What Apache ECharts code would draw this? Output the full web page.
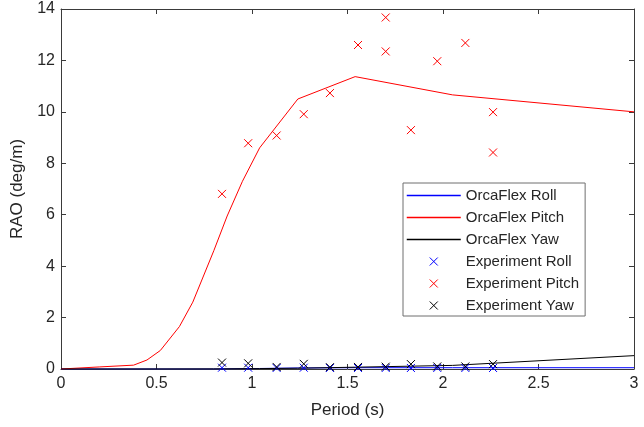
<!DOCTYPE html>
<html>
<head>
<meta charset="utf-8">
<script src="https://cdn.jsdelivr.net/npm/echarts@6/dist/echarts.min.js"></script>
<style>html,body{margin:0;padding:0;background:#fff}#c{width:644px;height:427px}</style>
</head>
<body>
<div id="c"></div>
<script>
// OrcaFlex computed RAO curves: [period (s), RAO (deg/m)]
var orcaRoll  = [[0,0],[0.8,0],[1.04,0.02],[1.24,0.04],[1.54,0.05],[2.05,0.05],[3,0.05]];
var orcaPitch = [[0,0],[0.2,0.08],[0.38,0.15],[0.45,0.35],[0.52,0.72],[0.62,1.65],[0.69,2.6],[0.8,4.6],[0.87,5.95],[0.95,7.3],[1.04,8.6],[1.24,10.5],[1.54,11.37],[2.05,10.66],[3,10.0]];
var orcaYaw   = [[0,0],[0.8,0.005],[1.04,0.015],[1.24,0.03],[1.54,0.07],[2.05,0.14],[3,0.52]];

// Experiment periods and values
var expPeriod = [0.843,0.98,1.129,1.271,1.408,1.555,1.70,1.70,1.832,1.970,2.117,2.262,2.262];
var expPitch  = [6.81,8.78,9.08,9.91,10.73,12.6,13.67,12.35,9.29,11.97,12.68,9.99,8.42];
var expPeriodRY = [0.843,0.98,1.129,1.271,1.408,1.555,1.70,1.832,1.970,2.117,2.262];
var expRoll   = [0.05,0.05,0.04,0.05,0.04,0.04,0.04,0.04,0.04,0.04,0.04];
var expYaw    = [0.25,0.22,0.08,0.2,0.07,0.08,0.09,0.19,0.1,0.1,0.19];

var xTicks = {min:0, max:3, interval:0.5};
var yTicks = {min:0, max:14, interval:2};

function pairs(xs, ys){ return xs.map(function(x,i){ return [x, ys[i]]; }); }

var FONT = 'Liberation Sans, Arial, Helvetica, sans-serif';
var TXT = '#262626';
var AX = '#3a3a3a';
var CROSS = 'path://M0,0L10,10M10,0L0,10';
var BLUE = '#0000ff', RED = '#ff0000', BLACK = '#000000';

function lineSeries(name, data, color){
  return {name:name, type:'line', data:data, symbol:'none', showSymbol:false,
    lineStyle:{color:color, width:1}, itemStyle:{color:'transparent', borderWidth:0}, silent:true,
    emphasis:{disabled:true}, z:2};
}
function crossSeries(name, data, color){
  return {name:name, type:'scatter', data:data, symbol:CROSS, symbolSize:8, symbolKeepAspect:true,
    itemStyle:{color:'transparent', borderColor:color, borderWidth:1, opacity:1},
    silent:true, emphasis:{disabled:true}, z:3};
}
function lineLegend(name, color){ return {name:name, lineStyle:{color:color, width:1.5}}; }

var baseX = {type:'value', min:xTicks.min, max:xTicks.max, interval:xTicks.interval, splitLine:{show:false}};
var baseY = {type:'value', min:yTicks.min, max:yTicks.max, interval:yTicks.interval, splitLine:{show:false}};

var chart = echarts.init(document.getElementById('c'), null, {renderer:'canvas'});
chart.setOption({
  animation:false,
  backgroundColor:'#fff',
  grid:{left:61, right:10, top:9, bottom:58, containLabel:false},
  xAxis:[
    Object.assign({}, baseX, {position:'bottom', name:'Period (s)', nameLocation:'middle', nameGap:33,
      nameTextStyle:{fontSize:17, color:TXT, fontFamily:FONT},
      axisLine:{onZero:false, lineStyle:{color:AX, width:1}},
      axisTick:{inside:true, length:5, lineStyle:{color:AX}},
      axisLabel:{fontSize:16, color:TXT, fontFamily:FONT, margin:7}}),
    Object.assign({}, baseX, {position:'top',
      axisLine:{onZero:false, lineStyle:{color:AX, width:1}},
      axisTick:{inside:true, length:5, lineStyle:{color:AX}},
      axisLabel:{show:false}})
  ],
  yAxis:[
    Object.assign({}, baseY, {position:'left', name:'RAO (deg/m)', nameLocation:'middle', nameGap:28,
      nameTextStyle:{fontSize:17, color:TXT, fontFamily:FONT},
      axisLine:{onZero:false, lineStyle:{color:AX, width:1}},
      axisTick:{inside:true, length:5, lineStyle:{color:AX}},
      axisLabel:{fontSize:16, color:TXT, fontFamily:FONT, margin:6}}),
    Object.assign({}, baseY, {position:'right',
      axisLine:{onZero:false, lineStyle:{color:AX, width:1}},
      axisTick:{inside:true, length:5, lineStyle:{color:AX}},
      axisLabel:{show:false}})
  ],
  legend:{
    left:403, top:183, orient:'vertical',
    itemWidth:54, itemHeight:8, itemGap:7,
    padding:[5,6,3,3],
    borderColor:'#6e6e6e', borderWidth:1, backgroundColor:'#fff',
    textStyle:{fontSize:15, color:TXT, fontFamily:FONT},
    lineStyle:{width:1.5},
    itemStyle:{borderWidth:1},
    selectedMode:false,
    data:[lineLegend('OrcaFlex Roll', BLUE), lineLegend('OrcaFlex Pitch', RED), lineLegend('OrcaFlex Yaw', BLACK),
      'Experiment Roll','Experiment Pitch','Experiment Yaw']
  },
  series:[
    lineSeries('OrcaFlex Roll', orcaRoll, BLUE),
    lineSeries('OrcaFlex Pitch', orcaPitch, RED),
    lineSeries('OrcaFlex Yaw', orcaYaw, BLACK),
    crossSeries('Experiment Roll', pairs(expPeriodRY, expRoll), BLUE),
    crossSeries('Experiment Pitch', pairs(expPeriod, expPitch), RED),
    crossSeries('Experiment Yaw', pairs(expPeriodRY, expYaw), BLACK)
  ]
});
</script>
</body>
</html>
